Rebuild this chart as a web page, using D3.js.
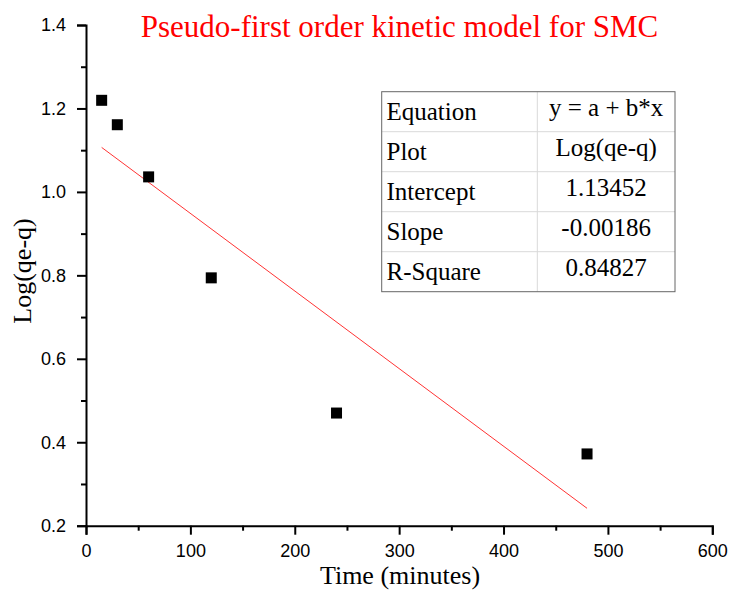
<!DOCTYPE html>
<html>
<head>
<meta charset="utf-8">
<script src="https://cdn.jsdelivr.net/npm/d3@7"></script>
<style>
  html, body { margin: 0; padding: 0; background: #fff; }
  svg { display: block; }
</style>
</head>
<body>
<svg id="chart" width="732" height="590"></svg>
<script>
// Contact time (minutes) and Log(qe - q) for SMC adsorption
const timeMinutes = [15, 30, 60, 120, 240, 480];
const logQeQ = [1.2195, 1.161, 1.036, 0.794, 0.470, 0.372];

// Linear fit results
const fitIntercept = 1.13452;
const fitSlope = -0.00186;
const fitRange = [15, 480];

// Fit summary table
const tableLabels = ["Equation", "Plot", "Intercept", "Slope", "R-Square"];
const tableValues = ["y = a + b*x", "Log(qe-q)", "1.13452", "-0.00186", "0.84827"];

// Axis ticks
const xTicks = [0, 100, 200, 300, 400, 500, 600];
const xMinorTicks = [50, 150, 250, 350, 450, 550];
const yTicks = [0.2, 0.4, 0.6, 0.8, 1.0, 1.2, 1.4];
const yMinorTicks = [0.3, 0.5, 0.7, 0.9, 1.1, 1.3];

const svg = d3.select("#chart");
const plot = { left: 86, right: 712.3, top: 25, bottom: 525.7 };

const x = d3.scaleLinear().domain([0, 600]).range([plot.left, plot.right]);
const y = d3.scaleLinear().domain([0.2, 1.4]).range([plot.bottom, plot.top]);

const tickFont = "'Liberation Sans', Arial, sans-serif";
const serif = "'Liberation Serif', 'Times New Roman', serif";

// Bottom axis
const gx = svg.append("g").attr("transform", `translate(0,${plot.bottom})`);
gx.call(d3.axisBottom(x).tickValues(xTicks).tickFormat(d3.format("d")).tickSize(9).tickPadding(10));
gx.append("g").call(d3.axisBottom(x).tickValues(xMinorTicks).tickFormat("").tickSize(5))
  .select(".domain").remove();

// Left axis
const gy = svg.append("g").attr("transform", `translate(${plot.left},0)`);
gy.call(d3.axisLeft(y).tickValues(yTicks).tickFormat(d3.format(".1f")).tickSize(9).tickPadding(11));
gy.append("g").call(d3.axisLeft(y).tickValues(yMinorTicks).tickFormat("").tickSize(5))
  .select(".domain").remove();

svg.selectAll(".domain").attr("stroke", "#000").attr("stroke-width", 2);
svg.selectAll(".tick line").attr("stroke", "#000").attr("stroke-width", 2);
svg.selectAll(".tick text").attr("fill", "#000")
  .style("font-family", tickFont).style("font-size", "18px");

// Fitted line
svg.append("line")
  .attr("x1", x(fitRange[0])).attr("y1", y(fitIntercept + fitSlope * fitRange[0]))
  .attr("x2", x(fitRange[1])).attr("y2", y(fitIntercept + fitSlope * fitRange[1]))
  .attr("stroke", "#ff3333").attr("stroke-width", 1);

// Data points
const sq = 11;
svg.append("g").selectAll("rect")
  .data(timeMinutes.map((t, i) => [t, logQeQ[i]]))
  .join("rect")
  .attr("x", d => x(d[0]) - sq / 2)
  .attr("y", d => y(d[1]) - sq / 2)
  .attr("width", sq).attr("height", sq)
  .attr("fill", "#000");

// Title
svg.append("text")
  .attr("x", 399.5).attr("y", 37)
  .attr("text-anchor", "middle")
  .attr("fill", "#ff0000")
  .style("font-family", serif).style("font-size", "31px")
  .text("Pseudo-first order kinetic model for SMC");

// Axis titles
svg.append("text")
  .attr("x", 400).attr("y", 584)
  .attr("text-anchor", "middle")
  .style("font-family", serif).style("font-size", "26px")
  .text("Time (minutes)");

svg.append("text")
  .attr("transform", "translate(31,271) rotate(-90)")
  .attr("text-anchor", "middle")
  .style("font-family", serif).style("font-size", "26px")
  .text("Log(qe-q)");

// Fit summary table
const tX = 381.7, tY = 91.7, rowH = 40, colSplit = 537.3, tW = 675 - 381.7;
const table = svg.append("g");
tableLabels.forEach((lab, i) => {
  const ry = tY + i * rowH;
  if (i > 0) {
    table.append("line").attr("x1", tX).attr("x2", tX + tW)
      .attr("y1", ry).attr("y2", ry).attr("stroke", "#d9d9d9").attr("stroke-width", 1);
  }
  table.append("text")
    .attr("x", 386.5).attr("y", ry + 28.5)
    .style("font-family", serif).style("font-size", "25px")
    .text(lab);
  table.append("text")
    .attr("x", (colSplit + tX + tW) / 2).attr("y", ry + 24.5)
    .attr("text-anchor", "middle")
    .style("font-family", serif).style("font-size", "25px")
    .text(tableValues[i]);
});
table.append("line").attr("x1", colSplit).attr("x2", colSplit)
  .attr("y1", tY).attr("y2", tY + rowH * tableLabels.length)
  .attr("stroke", "#d9d9d9").attr("stroke-width", 1);
table.append("rect")
  .attr("x", tX).attr("y", tY).attr("width", tW).attr("height", rowH * tableLabels.length)
  .attr("fill", "none").attr("stroke", "#666").attr("stroke-width", 1);
</script>
</body>
</html>
